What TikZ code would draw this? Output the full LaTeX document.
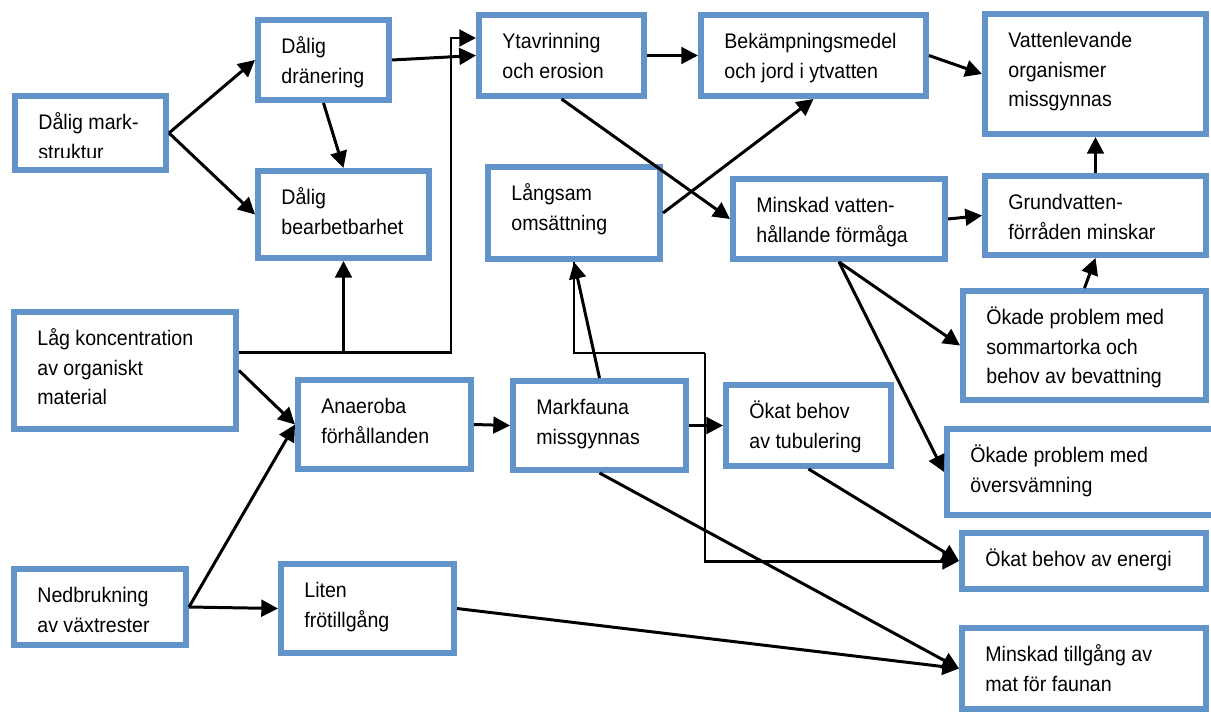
\documentclass[tikz,border=0pt]{standalone}
\usepackage{fontspec}
\setmainfont{Liberation Sans}[FakeStretch=0.93]
\usetikzlibrary{arrows.meta,fit}
\definecolor{boxblue}{RGB}{99,148,201}
\newcommand{\boxstrut}{\rule{0pt}{13pt}}

\begin{document}
\begin{tikzpicture}[x=0.02cm,y=-0.02cm,
    box/.style={draw=boxblue,line width=3.4pt,fill=white,inner sep=-0.06cm},
    txt/.style={anchor=north west,inner sep=0pt,align=left,
      font=\fontsize{12}{17}\selectfont},
    arr/.style={line width=1.7pt,-{Triangle[length=9.5pt,width=9.5pt]}}]

	% Fix the frame
	\useasboundingbox (0,0) rectangle (1211,711);

	% Draw boxes
	\node[box,fit={(12,93)(169,173)}] (mark) {};
	\node[box,fit={(255,17)(392,103)}] (dran) {};
	\node[box,fit={(255,168)(432,261)}] (bearb) {};
	\node[box,fit={(476,12)(647,99)}] (ytav) {};
	\node[box,fit={(698,12)(929,99)}] (bekamp) {};
	\node[box,fit={(982,11)(1209,137)}] (vatten) {};
	\node[box,fit={(485,164)(663,262)}] (lang) {};
	\node[box,fit={(730,176)(948,262)}] (minsk) {};
	\node[box,fit={(982,173)(1209,258)}] (grund) {};
	\node[box,fit={(960,288)(1209,403)}] (sommar) {};
	\node[box,fit={(11,309)(239,432)}] (lag) {};
	\node[box,fit={(295,377)(474,472)}] (anaer) {};
	\node[box,fit={(11,566)(189,648)}] (ned) {};
	\node[box,fit={(278,561)(457,656)}] (frot) {};
	\node[box,fit={(510,378)(689,473)}] (markf) {};
	\node[box,fit={(723,382)(894,469)}] (tub) {};
	\node[box,fit={(944,426)(1218,518)}] (oversv) {};
	\node[box,fit={(959,530)(1209,592)}] (energi) {};
	\node[box,fit={(959,625)(1209,712)}] (mat) {};

	% Label boxes
	\begin{scope}
		\clip (mark.north west) rectangle (mark.east |- 0,157);
		\node[txt] (markT) at ([xshift=0.52cm,yshift=-0.26cm]mark.north west) {\boxstrut Dålig mark-\\struktur};
	\end{scope}
	\node[txt] (dranT) at ([xshift=0.52cm,yshift=-0.26cm]dran.north west) {\boxstrut Dålig\\dränering};
	\node[txt] (bearbT) at ([xshift=0.52cm,yshift=-0.26cm]bearb.north west) {\boxstrut Dålig\\bearbetbarhet};
	\node[txt] (ytavT) at ([xshift=0.52cm,yshift=-0.26cm]ytav.north west) {\boxstrut Ytavrinning\\och erosion};
	\node[txt] (bekampT) at ([xshift=0.52cm,yshift=-0.26cm]bekamp.north west) {\boxstrut Bekämpningsmedel\\och jord i ytvatten};
	\node[txt] (vattenT) at ([xshift=0.52cm,yshift=-0.26cm]vatten.north west) {\boxstrut Vattenlevande\\organismer\\missgynnas};
	\node[txt] (langT) at ([xshift=0.52cm,yshift=-0.26cm]lang.north west) {\boxstrut Långsam\\omsättning};
	\node[txt] (minskT) at ([xshift=0.52cm,yshift=-0.26cm]minsk.north west) {\boxstrut Minskad vatten-\\hållande förmåga};
	\node[txt] (grundT) at ([xshift=0.52cm,yshift=-0.26cm]grund.north west) {\boxstrut Grundvatten-\\förråden minskar};
	\node[txt] (sommarT) at ([xshift=0.52cm,yshift=-0.26cm]sommar.north west) {\boxstrut Ökade problem med\\sommartorka och\\behov av bevattning};
	\node[txt] (lagT) at ([xshift=0.52cm,yshift=-0.26cm]lag.north west) {\boxstrut Låg koncentration\\av organiskt\\material};
	\node[txt] (anaerT) at ([xshift=0.52cm,yshift=-0.26cm]anaer.north west) {\boxstrut Anaeroba\\förhållanden};
	\node[txt] (nedT) at ([xshift=0.52cm,yshift=-0.26cm]ned.north west) {\boxstrut Nedbrukning\\av växtrester};
	\node[txt] (frotT) at ([xshift=0.52cm,yshift=-0.26cm]frot.north west) {\boxstrut Liten\\frötillgång};
	\node[txt] (markfT) at ([xshift=0.52cm,yshift=-0.26cm]markf.north west) {\boxstrut Markfauna\\missgynnas};
	\node[txt] (tubT) at ([xshift=0.52cm,yshift=-0.26cm]tub.north west) {\boxstrut Ökat behov\\av tubulering};
	\node[txt] (oversvT) at ([xshift=0.52cm,yshift=-0.26cm]oversv.north west) {\boxstrut Ökade problem med\\översvämning};
	\node[txt] (energiT) at ([xshift=0.52cm,yshift=-0.26cm]energi.north west) {\boxstrut Ökat behov av energi};
	\node[txt] (matT) at ([xshift=0.52cm,yshift=-0.26cm]mat.north west) {\boxstrut Minskad tillgång av\\mat för faunan};

	% Draw arrows
	\draw[arr] (mark.east) -- (dran.west);
	\draw[arr] (mark.east) -- (bearb.west);
	\draw[arr] (dran.south) -- (bearb.north);
	\draw[arr] (dran.east) -- (ytav.west);
	\coordinate (jU) at (451,38);
	\draw[arr] (lag.east |- 0,352) -| (jU) -- (ytav.west |- jU);
	\draw[arr] (bearb.south |- 0,352) -- (bearb.south);
	\draw[arr] (ytav.east) -- (bekamp.west);
	\draw[arr] (ytav.south) -- (minsk.west);
	\draw[arr] (lang.east) -- (bekamp.south);
	\draw[arr] (bekamp.east) -- (vatten.west);
	\draw[arr] (minsk.east) -- (grund.west);
	\draw[arr] (grund.north) -- (vatten.south);
	\draw[arr] (sommar.north) -- (grund.south);
	\draw[arr] (minsk.south) -- (sommar.west);
	\draw[arr] (minsk.south) -- (oversv.west);
	\draw[arr] (lag.east) -- (anaer.west);
	\draw[arr] (ned.east) -- (anaer.west);
	\draw[arr] (ned.east) -- (frot.west);
	\draw[arr] (anaer.east) -- (markf.west);
	\draw[arr] (markf.north) -- (lang.south);
	\draw[arr] (markf.east) -- (tub.west);
	\draw[arr] (markf.south) -- (mat.west);
	\draw[arr] (tub.south) -- (energi.west);
	\draw[arr] (frot.east) -- (mat.west);

	% Thin line round to energy
	\coordinate (knee) at (705,353);
	\draw[line width=0.6pt] (lang.south) |- (knee);
	\draw[arr] (knee) |- (energi.west);
\end{tikzpicture}
\end{document}
